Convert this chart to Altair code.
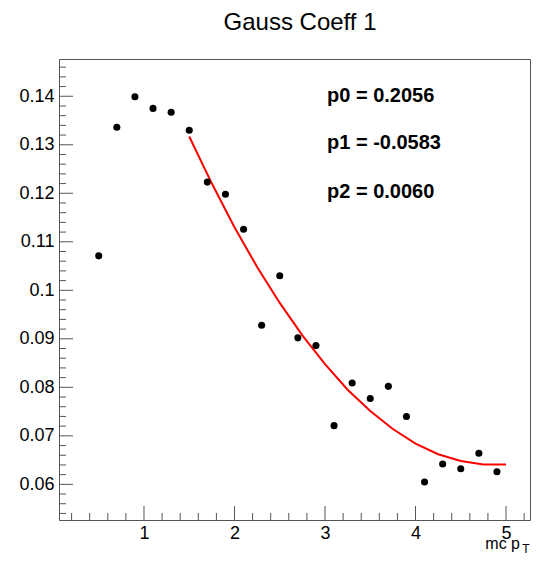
import altair as alt
import pandas as pd

# ---- data ----
pt_x = [0.5, 0.7, 0.9, 1.1, 1.3, 1.5, 1.7, 1.9, 2.1, 2.3, 2.5, 2.7,
        2.9, 3.1, 3.3, 3.5, 3.7, 3.9, 4.1, 4.3, 4.5, 4.7, 4.9]
pt_y = [0.1071, 0.1336, 0.1399, 0.1375, 0.1367, 0.1330, 0.1223, 0.1198,
        0.1126, 0.0928, 0.1030, 0.0902, 0.0886, 0.0721, 0.0809, 0.0777,
        0.0802, 0.0740, 0.0605, 0.0642, 0.0632, 0.0664, 0.0626]

fit_x = [1.5, 1.75, 2.0, 2.25, 2.5, 2.75, 3.0, 3.25, 3.5, 3.75, 4.0,
         4.25, 4.5, 4.75, 5.0]
fit_y = [0.1317, 0.1220, 0.1130, 0.1048, 0.0974, 0.0907, 0.0848, 0.0795,
         0.0751, 0.0714, 0.0684, 0.0662, 0.0648, 0.0641, 0.0641]

x_major = [1, 2, 3, 4, 5]
x_minor = [0.2, 0.4, 0.6, 0.8, 1.2, 1.4, 1.6, 1.8, 2.2, 2.4, 2.6, 2.8,
           3.2, 3.4, 3.6, 3.8, 4.2, 4.4, 4.6, 4.8, 5.2]
y_major = [0.06, 0.07, 0.08, 0.09, 0.10, 0.11, 0.12, 0.13, 0.14]
y_minor = [0.054, 0.056, 0.058, 0.062, 0.064, 0.066, 0.068, 0.072, 0.074,
           0.076, 0.078, 0.082, 0.084, 0.086, 0.088, 0.092, 0.094, 0.096,
           0.098, 0.102, 0.104, 0.106, 0.108, 0.112, 0.114, 0.116, 0.118,
           0.122, 0.124, 0.126, 0.128, 0.132, 0.134, 0.136, 0.138, 0.142,
           0.144, 0.146]

fit_labels = ["p0 = 0.2056", "p1 = -0.0583", "p2 = 0.0060"]
title_text = "Gauss Coeff 1"
xtitle_main = "mc p"
xtitle_sub = "T"

FONT = "Liberation Sans"
W, H = 471, 461
FRAME = "#555555"

xs = alt.Scale(domain=[0.061, 5.265], nice=False, zero=False)
ys = alt.Scale(domain=[0.05265, 0.14768], nice=False, zero=False)

pts = pd.DataFrame({"x": pt_x, "y": pt_y})
fit = pd.DataFrame({"x": fit_x, "y": fit_y})

points = alt.Chart(pts).mark_circle(size=50, color="black", opacity=1).encode(
    x=alt.X("x:Q", scale=xs, title=None,
            axis=alt.Axis(values=x_major, format="d", ticks=False, domain=False,
                          grid=False, labelFont=FONT, labelFontSize=18,
                          labelColor="black", labelPadding=4)),
    y=alt.Y("y:Q", scale=ys, title=None,
            axis=alt.Axis(values=y_major, format="~g", ticks=False, domain=False,
                          grid=False, labelFont=FONT, labelFontSize=18,
                          labelColor="black", labelPadding=5)),
)

curve = alt.Chart(fit).mark_line(color="#ff0000", strokeWidth=2).encode(
    x=alt.X("x:Q", scale=xs), y=alt.Y("y:Q", scale=ys)
)

def xticks(vals, length):
    return alt.Chart(pd.DataFrame({"x": vals})).mark_rule(
        color=FRAME, strokeWidth=1).encode(
        x=alt.X("x:Q", scale=xs),
        y=alt.value(H), y2=alt.value(H - length))

def yticks(vals, length):
    return alt.Chart(pd.DataFrame({"y": vals})).mark_rule(
        color=FRAME, strokeWidth=1).encode(
        y=alt.Y("y:Q", scale=ys),
        x=alt.value(0), x2=alt.value(length))

labels_df = pd.DataFrame({"t": fit_labels, "py": [42.7, 90.3, 139.3]})
fit_text = alt.Chart(labels_df).mark_text(
    align="left", baseline="alphabetic", font=FONT, fontSize=20,
    fontWeight="bold", color="black").encode(
    text="t:N", x=alt.value(268), y=alt.Y("py:Q", scale=None))

title = alt.Chart(pd.DataFrame({"t": [title_text]})).mark_text(
    align="center", baseline="alphabetic", font=FONT, fontSize=24,
    color="black").encode(text="t:N", x=alt.value(241), y=alt.value(-29))

xt1 = alt.Chart(pd.DataFrame({"t": [xtitle_main]})).mark_text(
    align="right", baseline="alphabetic", font=FONT, fontSize=16,
    color="black").encode(text="t:N", x=alt.value(461), y=alt.value(490))

xt2 = alt.Chart(pd.DataFrame({"t": [xtitle_sub]})).mark_text(
    align="center", baseline="alphabetic", font=FONT, fontSize=12,
    color="black").encode(text="t:N", x=alt.value(467), y=alt.value(494))

chart = alt.layer(
    xticks(x_minor, 7), xticks(x_major, 14),
    yticks(y_minor, 7), yticks(y_major, 14),
    curve, points, fit_text, title, xt1, xt2,
).properties(
    width=W, height=H,
    autosize=alt.AutoSizeParams(type="none"),
    padding={"left": 51, "top": 51, "right": 1, "bottom": 36},
    background="white",
).configure_view(stroke=FRAME, strokeWidth=1)

chart.save("out.html", embed_options={"renderer": "svg", "actions": False})
